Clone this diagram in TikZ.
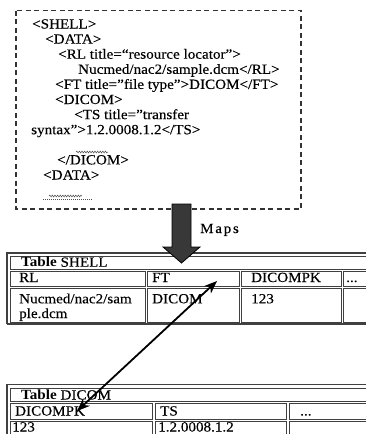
\documentclass[tikz,border=0pt]{standalone}
\usepackage{fontspec}
\setmainfont{Liberation Serif}[FakeStretch=1.08,UprightFeatures={FakeBold=0.3}]
\newfontfamily\mapsfont{Liberation Serif}[FakeStretch=1.08,LetterSpace=12,UprightFeatures={FakeBold=0.3}]
\usetikzlibrary{arrows.meta,decorations.pathmorphing}
\definecolor{tabline}{HTML}{404040}
\definecolor{boxline}{HTML}{333333}
\begin{document}
\begin{tikzpicture}[x=1pt,y=-1pt,
  txt/.style={anchor=base west,inner sep=0pt,font=\fontsize{14}{14.7}\selectfont},
  cellbox/.style={draw=tabline,line width=0.8pt},
  outerline/.style={draw=tabline,line width=1.2pt},
  dashbox/.style={draw=boxline,line width=1.1pt,dash pattern=on 5pt off 3.5pt},
  squig/.style={draw=black!70,line width=0.5pt,decorate,decoration={snake,segment length=2.6pt,amplitude=0.9pt}},
  dotline/.style={draw=black!70,line width=0.5pt,dash pattern=on 1pt off 1pt},
  maparrow/.style={fill=black!78,draw=black,line width=0.8pt},
  link/.style={draw=black,line width=1.8pt,{Stealth[length=13pt,width=10pt]}-{Stealth[length=13pt,width=10pt]}}
]
\useasboundingbox (0,0) rectangle (366,434);

% XML box
\draw[dashbox] (16,10.7) rectangle (301,209);
\node[txt] (x1) at (32,28.5) {<SHELL>};
\node[txt] (x2) at (45,43.6) {<DATA>};
\node[txt] (x3) at (58,58.7) {<RL title=“resource locator”>};
\node[txt] (x4) at (78,73.8) {Nucmed/nac2/sample.dcm</RL>};
\node[txt] (x5) at (55,88.9) {<FT title=”file type”>DICOM</FT>};
\node[txt] (x6) at (55,104) {<DICOM>};
\node[txt] (x7) at (74,119.1) {<TS title=”transfer};
\node[txt] (x8) at (31,134.2) {syntax”>1.2.0008.1.2</TS>};
\node[txt] (x9) at (57,164.4) {</DICOM>};
\node[txt] (x10) at (43,179.5) {<DATA>};
\draw[squig] (76,152) -- (108,152);
\draw[squig] (49,196) -- (82,196);
\draw[dotline] (43,199.5) -- (92,199.5);

% Table SHELL
\draw[outerline] (7,324) -- (7,253) -- (370,253);
\draw[outerline] (7,324) -- (370,324);
\draw[cellbox] (10,256) rectangle (370,269.5);
\draw[cellbox] (10,271) rectangle (145,286);
\draw[cellbox] (147,271) rectangle (239,286);
\draw[cellbox] (241,271) rectangle (341,286);
\draw[cellbox] (343,271) rectangle (370,286);
\draw[cellbox] (10,288) rectangle (145,322);
\draw[cellbox] (147,288) rectangle (239,322);
\draw[cellbox] (241,288) rectangle (341,322);
\draw[cellbox] (343,288) rectangle (370,322);
\node[txt] (t1) at (21,266.7) {\textbf{Table} SHELL};
\node[txt] (t2) at (19,282) {RL};
\node[txt] (t3) at (152,282) {FT};
\node[txt] (t4) at (251,282) {DICOMPK};
\node[txt] (t5) at (346,282) {...};
\node[txt] (t6a) at (19,303.3) {Nucmed/nac2/sam};
\node[txt] (t6b) at (19,318) {ple.dcm};
\node[txt] (t7) at (152,303.3) {DICOM};
\node[txt] (t8) at (251,303.3) {123};

% Table DICOM
\draw[outerline] (7,440) -- (7,384.5) -- (370,384.5);
\draw[cellbox] (10,388) rectangle (370,401.5);
\draw[cellbox] (10,403.5) rectangle (152,419);
\draw[cellbox] (155,403.5) rectangle (286,419);
\draw[cellbox] (289,403.5) rectangle (370,419);
\draw[cellbox] (10,421) rectangle (152,445);
\draw[cellbox] (155,421) rectangle (286,445);
\draw[cellbox] (289,421) rectangle (370,445);
\node[txt] (d1) at (21,399.5) {\textbf{Table} DICOM};
\node[txt] (d2) at (15,415.5) {DICOMPK};
\node[txt] (d3) at (160,415.5) {TS};
\node[txt] (d4) at (300,415.5) {...};
\node[txt] (d5) at (12,431.5) {123};
\node[txt] (d6) at (158,431.5) {1.2.0008.1.2};

% Maps arrow
\draw[maparrow] (172,204) -- (191,204) -- (191,247) -- (200,247) -- (181.5,263) -- (163,247) -- (172,247) -- cycle;
\node[txt,font=\fontsize{14}{14.7}\mapsfont] (m1) at (200,233) {Maps};

% link between tables
\coordinate (ftpt) at (217,281);
\coordinate (dkpt) at (77,411);
\draw[link] (dkpt) -- (ftpt);
\end{tikzpicture}
\end{document}
